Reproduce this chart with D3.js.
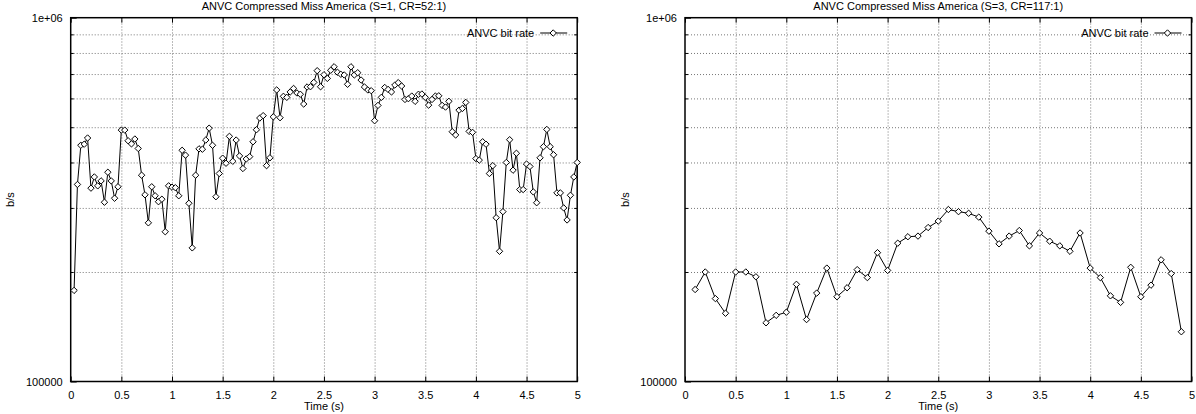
<!DOCTYPE html>
<html>
<head>
<meta charset="utf-8">
<script src="https://cdn.jsdelivr.net/npm/d3@7"></script>
<style>
  body { margin: 0; background: #fff; }
  svg { display: block; }
  text { font-family: "Liberation Sans", Arial, Helvetica, sans-serif; font-size: 11px; fill: #000; }
</style>
</head>
<body>
<svg id="chart" width="1196" height="414"></svg>
<script>
// Axis ticks and labels
const xTickValues = [0, 0.5, 1, 1.5, 2, 2.5, 3, 3.5, 4, 4.5, 5];
const yMajorValues = [1e5, 1e6];
const yMajorLabels = ["100000", "1e+06"];
const yMinorValues = [2e5, 3e5, 4e5, 5e5, 6e5, 7e5, 8e5, 9e5];
const xLabel = "Time (s)";
const yLabel = "b/s";
const seriesName = "ANVC bit rate";
const titles = [
  "ANVC Compressed Miss America (S=1, CR=52:1)",
  "ANVC Compressed Miss America (S=3, CR=117:1)"
];

// Sequence timing: 30 frames per second; S=3 keeps every third frame
const frameRate = 30;
const frameStepS1 = 1;
const frameStepS3 = 3;

// Bit rate per coded frame, kb/s
const rateS1 = [
  178, 348, 446, 449, 467, 340, 365, 345, 356, 311,
  376, 356, 319, 343, 491, 491, 459, 450, 464, 437,
  369, 326, 273, 343, 324, 312, 317, 258, 345, 342,
  341, 324, 432, 419, 309, 233, 369, 436, 435, 461,
  497, 446, 322, 373, 411, 398, 472, 403, 461, 417,
  385, 409, 415, 456, 492, 530, 538, 392, 412, 534,
  633, 531, 608, 604, 625, 639, 621, 616, 579, 645,
  646, 664, 715, 646, 697, 681, 717, 733, 708, 699,
  696, 656, 733, 696, 706, 674, 645, 633, 630, 521,
  574, 604, 643, 635, 625, 653, 663, 649, 596, 599,
  609, 589, 616, 617, 604, 575, 596, 609, 610, 574,
  568, 589, 486, 476, 557, 563, 585, 487, 484, 410,
  406, 456, 449, 373, 392, 282, 228, 293, 400, 462,
  381, 424, 337, 337, 396, 390, 332, 310, 412, 442,
  493, 442, 420, 330, 330, 300, 278, 325, 365, 400
];
const rateS3 = [
  179, 200, 169, 154, 200, 200, 194, 145, 152, 155,
  185, 148, 175, 205, 171, 181, 203, 193, 226, 202,
  240, 250, 251, 265, 276, 297, 293, 290, 283, 259,
  239, 251, 260, 236, 256, 243, 236, 228, 256, 205,
  193, 172, 165, 206, 171, 184, 216, 198, 137
];

const toSeries = (rates, step) =>
  rates.map((r, i) => ({ t: (i + 1) * step / frameRate, v: r * 1000 }));

const panels = [
  { title: titles[0], series: toSeries(rateS1, frameStepS1), left: 70.7, right: 577.2, yLabelX: 10 },
  { title: titles[1], series: toSeries(rateS3, frameStepS3), left: 685, right: 1191.5, yLabelX: 625 }
];

const plotTop = 17.7, plotBottom = 381.5;
const svg = d3.select("#chart");

panels.forEach(p => {
  const x = d3.scaleLinear().domain([0, 5]).range([p.left, p.right]);
  const y = d3.scaleLog().domain([1e5, 1e6]).range([plotBottom, plotTop]);
  const w = p.right - p.left, h = plotBottom - plotTop;
  const g = svg.append("g");

  // dotted grid
  const gridX = g.append("g").attr("transform", `translate(0,${plotBottom})`)
    .call(d3.axisBottom(x).tickValues(xTickValues.slice(1, -1)).tickSize(-h).tickFormat(""));
  const gridY = g.append("g").attr("transform", `translate(${p.left},0)`)
    .call(d3.axisLeft(y).tickValues(yMinorValues).tickSize(-w).tickFormat(""));
  [gridX, gridY].forEach(a => {
    a.select(".domain").remove();
    a.selectAll("line").attr("stroke", "#777").attr("stroke-width", 1).attr("stroke-dasharray", "1,2");
  });

  // inward ticks on all four sides
  const bottomAxis = g.append("g").attr("transform", `translate(0,${plotBottom})`)
    .call(d3.axisBottom(x).tickValues(xTickValues).tickSize(-5).tickPadding(10).tickFormat(d3.format("")));
  const topAxis = g.append("g").attr("transform", `translate(0,${plotTop})`)
    .call(d3.axisTop(x).tickValues(xTickValues).tickSize(-5).tickFormat(""));
  const leftMajor = g.append("g").attr("transform", `translate(${p.left},0)`)
    .call(d3.axisLeft(y).tickValues(yMajorValues).tickSize(-6).tickPadding(8)
      .tickFormat((d, i) => yMajorLabels[i]));
  const leftMinor = g.append("g").attr("transform", `translate(${p.left},0)`)
    .call(d3.axisLeft(y).tickValues(yMinorValues).tickSize(-3).tickFormat(""));
  const rightMinor = g.append("g").attr("transform", `translate(${p.right},0)`)
    .call(d3.axisRight(y).tickValues(yMinorValues).tickSize(-3).tickFormat(""));
  [bottomAxis, topAxis, leftMajor, leftMinor, rightMinor].forEach(a => {
    a.select(".domain").remove();
    a.selectAll("line").attr("stroke", "#000");
    a.selectAll("text").attr("font-family", null).attr("font-size", null).attr("fill", "#000");
  });

  // frame
  g.append("rect").attr("x", p.left).attr("y", plotTop).attr("width", w).attr("height", h)
    .attr("fill", "none").attr("stroke", "#000").attr("stroke-width", 1.5);

  // titles and axis labels
  g.append("text").attr("x", (p.left + p.right) / 2).attr("y", 10)
    .attr("text-anchor", "middle").text(p.title);
  g.append("text").attr("x", (p.left + p.right) / 2).attr("y", 410)
    .attr("text-anchor", "middle").text(xLabel);
  g.append("text").attr("transform", `translate(${p.yLabelX},${(plotTop + plotBottom) / 2}) rotate(-90)`)
    .attr("text-anchor", "middle").attr("dy", "0.35em").text(yLabel);

  // series line and diamond markers
  const line = d3.line().x(d => x(d.t)).y(d => y(d.v));
  g.append("path").datum(p.series).attr("d", line)
    .attr("fill", "none").attr("stroke", "#000").attr("stroke-width", 1);
  const diamond = d3.symbol().type(d3.symbolDiamond2).size(26);
  g.selectAll(".pt").data(p.series).join("path").attr("class", "pt")
    .attr("transform", d => `translate(${x(d.t)},${y(d.v)})`)
    .attr("d", diamond).attr("fill", "#fff").attr("stroke", "#000").attr("stroke-width", 1);

  // key
  const ky = 33;
  g.append("text").attr("x", p.right - 43).attr("y", ky).attr("dy", "0.35em")
    .attr("text-anchor", "end").text(seriesName);
  g.append("line").attr("x1", p.right - 37).attr("x2", p.right - 10).attr("y1", ky).attr("y2", ky)
    .attr("stroke", "#000");
  g.append("path").attr("transform", `translate(${p.right - 24},${ky})`).attr("d", diamond)
    .attr("fill", "#fff").attr("stroke", "#000");
});
</script>
</body>
</html>
